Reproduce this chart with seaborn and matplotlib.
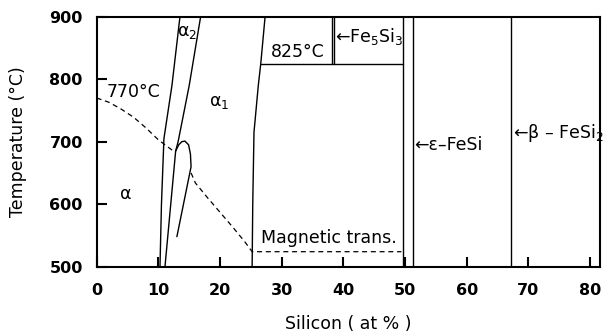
import matplotlib
matplotlib.use("Agg")
import matplotlib.pyplot as plt
import seaborn as sns
import pandas as pd

sns.set_style("ticks")
plt.rcParams["font.family"] = ["DejaVu Sans"]
plt.rcParams["mathtext.fontset"] = "dejavusans"
for k in ["text.color", "axes.labelcolor", "xtick.color", "ytick.color", "axes.edgecolor"]:
    plt.rcParams[k] = "black"

# ---- data: phase boundaries (Si at%, temperature °C) ----
alpha_edge_si = [13.5, 12.2, 10.9, 10.5, 10.26]
alpha_edge_t = [900, 790, 705, 600, 500]
alpha2_edge_si = [16.85, 15.0, 13.2, 12.8, 11.07]
alpha2_edge_t = [900, 790, 700, 685, 500]
loop_si = [12.8, 13.3, 13.8, 14.3, 14.9, 15.2, 15.3, 13.0]
loop_t = [685, 695, 700, 701, 695, 680, 660, 548]
fe3si_edge_si = [27.3, 26.6, 26.2, 25.5, 25.3, 25.2]
fe3si_edge_t = [900, 825, 790, 715, 600, 500]
eutectoid_si = [26.6, 49.7]
eutectoid_t = [825, 825]
fe5si3_left_si = [38.1, 38.1]
fe5si3_right_si = [38.5, 38.5]
fe5si3_t = [825, 900]
fesi_left_si = [49.7, 49.7]
fesi_right_si = [51.2, 51.2]
fesi2_si = [67.2, 67.2]
full_t = [500, 900]
magnetic1_si = [0, 2, 4, 6, 8, 10, 12.7]
magnetic1_t = [770, 763, 752, 739, 722, 703, 683]
magnetic2_si = [15.3, 16, 18, 20, 22, 24, 25.2, 49.4]
magnetic2_t = [650, 634, 610, 587, 564, 540, 524, 524]

x_ticks = [0, 10, 20, 30, 40, 50, 60, 70, 80]
y_ticks = [500, 600, 700, 800, 900]

solid_lines = [
    (alpha_edge_si, alpha_edge_t),
    (alpha2_edge_si, alpha2_edge_t),
    (loop_si, loop_t),
    (fe3si_edge_si, fe3si_edge_t),
    (eutectoid_si, eutectoid_t),
    (fe5si3_left_si, fe5si3_t),
    (fe5si3_right_si, fe5si3_t),
    (fesi_left_si, full_t),
    (fesi_right_si, full_t),
    (fesi2_si, full_t),
]
dashed_lines = [
    (magnetic1_si, magnetic1_t),
    (magnetic2_si, magnetic2_t),
]

fig = plt.figure(figsize=(6.07, 3.35), dpi=100)
ax = fig.add_axes([0.1593, 0.2039, 0.8292, 0.7462])

for xs, ts in solid_lines:
    df = pd.DataFrame({"si": xs, "t": ts})
    sns.lineplot(data=df, x="si", y="t", sort=False, estimator=None,
                 color="black", linewidth=1.0, ax=ax)
for xs, ts in dashed_lines:
    df = pd.DataFrame({"si": xs, "t": ts})
    sns.lineplot(data=df, x="si", y="t", sort=False, estimator=None,
                 color="black", linewidth=0.9, ax=ax,
                 dashes=False, linestyle=(0, (4, 3)))

ax.set_xlim(0, 81.6)
ax.set_ylim(500, 900)
ax.set_xticks(x_ticks)
ax.set_yticks(y_ticks)
ax.set_xticklabels([str(v) for v in x_ticks], fontweight="bold", fontsize=11.5)
ax.set_yticklabels([str(v) for v in y_ticks], fontweight="bold", fontsize=11.5)
ax.tick_params(axis="both", direction="in", length=7, width=1.5, colors="black")
ax.tick_params(axis="x", pad=12)
ax.tick_params(axis="y", pad=10)
for s in ax.spines.values():
    s.set_linewidth(1.5)
    s.set_color("black")
    s.set_visible(True)

ax.set_xlabel("Silicon ( at % )", fontsize=12.5, labelpad=12)
ax.set_ylabel("Temperature (°C)", fontsize=12.5, labelpad=16)

fs = 12.5
ax.text(1.6, 779, "770°C", fontsize=fs, ha="left", va="center")
ax.text(14.6, 875, "α$_2$", fontsize=fs, ha="center", va="center")
ax.text(19.9, 763, "α$_1$", fontsize=fs, ha="center", va="center")
ax.text(4.7, 617, "α", fontsize=fs, ha="center", va="center")
ax.text(28.2, 843, "825°C", fontsize=fs, ha="left", va="center")
ax.text(38.6, 868, "←Fe$_5$Si$_3$", fontsize=fs, ha="left", va="center")
ax.text(26.7, 546, "Magnetic trans.", fontsize=fs, ha="left", va="center")
ax.text(51.5, 694, "←ε–FeSi", fontsize=fs, ha="left", va="center")
ax.text(67.5, 714, "←β – FeSi$_2$", fontsize=fs, ha="left", va="center")

fig.savefig("out.png", dpi=100)
